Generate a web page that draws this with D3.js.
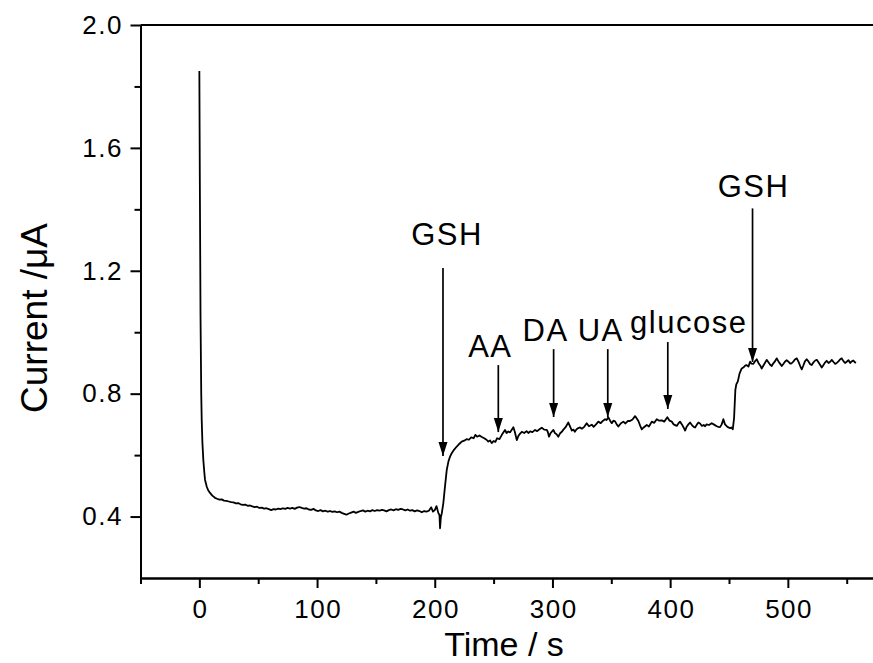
<!DOCTYPE html>
<html>
<head>
<meta charset="utf-8">
<script src="https://d3js.org/d3.v7.min.js"></script>
<style>
body, html {
  margin: 0;
  padding: 0;
  background: #fff;
  font-family: Arial, "Liberation Sans", sans-serif;
}
.axis path, .axis line {
  stroke: #000;
  stroke-width: 2px;
}
.axis text {
  font-family: Arial, "Liberation Sans", sans-serif;
  font-size: 26px;
  letter-spacing: 1.5px;
  fill: #000;
}
.trace {
  fill: none;
  stroke: #000;
  stroke-width: 1.8px;
  stroke-linejoin: round;
}
.arrow {
  stroke: #000;
  stroke-width: 1.7px;
}
.label {
  font-size: 31px;
  letter-spacing: 1.5px;
  fill: #000;
}
.title {
  font-size: 34px;
  fill: #000;
}
</style>
</head>
<body>
<div id="chart"></div>
<script>

// amperometric trace: [time (s), current (uA)]
var trace = [
  [0,1.85],[0.4,1.5],[1,1.05],[1.6,0.8],[2,0.715],[2.6,0.64],[3.4,0.583],[4.2,0.545],
  [4.8,0.52],[6.3,0.497],[7.5,0.486],[9.1,0.477],[11,0.468],[13.3,0.461],
  [15,0.458],[17,0.455],[19,0.456],[21,0.452],[23,0.451],[25,0.449],[27,0.447],[29,0.446],
  [31,0.443],[33,0.444],[35,0.440],[37,0.438],[39,0.439],[41,0.435],[43,0.436],[45,0.433],
  [47,0.431],[49,0.432],[51,0.428],[53,0.429],[55,0.426],[57,0.427],[59,0.424],[61,0.421],
  [63,0.424],[65,0.423],[67,0.426],[69,0.424],[71,0.427],[73,0.425],[75,0.428],[77,0.426],
  [79,0.428],[81,0.425],[83,0.429],[85,0.431],[87,0.428],[89,0.426],[91,0.427],[93,0.423],
  [95,0.422],[97,0.425],[99,0.420],[101,0.418],[103,0.421],[105,0.417],[107,0.419],[109,0.416],
  [111,0.418],[113,0.415],[115,0.417],[117,0.414],[119,0.416],[121,0.412],[123,0.409],[125,0.406],
  [127,0.410],[129,0.413],[131,0.416],[133,0.412],[135,0.415],[137,0.418],[139,0.420],[141,0.416],
  [143,0.419],[145,0.417],[147,0.421],[149,0.418],[151,0.421],[153,0.419],[155,0.422],[157,0.420],
  [159,0.417],[161,0.421],[163,0.423],[165,0.420],[167,0.424],[169,0.422],[171,0.425],[173,0.423],
  [175,0.420],[177,0.423],[179,0.419],[181,0.421],[183,0.417],[185,0.420],[187,0.418],[189,0.414],
  [191,0.418],[193,0.416],[195,0.419],[197,0.430],[198.5,0.416],[200,0.421],[201.5,0.434],[203,0.412],
  [204,0.405],[204.5,0.362],[205.2,0.398],[206,0.411],[207.3,0.444],[208.7,0.498],[210.2,0.552],
  [211.6,0.579],[213,0.595],[214.4,0.606],[216.5,0.618],[218.7,0.628],[221,0.637],[222.9,0.644],
  [225,0.647],[227,0.652],[229,0.650],[231,0.658],[233,0.655],[234.5,0.666],[236,0.660],[238,0.664],
  [240,0.659],[242,0.655],[244,0.650],[245.5,0.644],[247,0.648],[248.4,0.639],[250,0.646],[251.5,0.643],
  [253,0.655],[255,0.652],[257,0.666],[259.7,0.682],[261,0.672],[262.5,0.677],[264,0.674],[266.8,0.691],
  [268,0.676],[269.7,0.649],[271,0.662],[272.5,0.670],[274,0.676],[276,0.672],[278,0.678],[279.5,0.672],
  [281,0.677],[283,0.675],[285.2,0.682],[287,0.678],[289,0.684],[290.9,0.689],[293,0.683],[295.2,0.682],
  [296,0.676],[297.1,0.660],[298.5,0.672],[300.8,0.682],[302,0.672],[303.5,0.668],[305,0.660],[306.5,0.671],
  [308,0.676],[309.3,0.683],[311,0.690],[313.5,0.706],[315,0.693],[316.5,0.680],[317.8,0.683],[319,0.676],
  [320.5,0.684],[322,0.688],[323.5,0.690],[325,0.686],[327,0.692],[329.1,0.704],[331,0.694],[333.4,0.699],
  [335,0.692],[337,0.700],[339,0.709],[341,0.704],[343,0.712],[344.7,0.717],[346,0.714],[347.5,0.723],
  [349,0.712],[350.4,0.704],[351.8,0.712],[353.2,0.710],[354.6,0.700],[356,0.693],[358,0.703],[360.2,0.709],
  [362,0.703],[364,0.711],[365.9,0.711],[368,0.716],[370.2,0.727],[371.5,0.720],[373,0.711],[374.5,0.696],
  [375.9,0.684],[377.5,0.690],[380.1,0.698],[382,0.693],[384.4,0.709],[386.5,0.705],[388.6,0.717],[390.8,0.712],
  [392.9,0.713],[395,0.709],[397.6,0.723],[399.5,0.712],[401.4,0.709],[403,0.700],[405.6,0.695],[407,0.703],
  [408.4,0.709],[410,0.700],[411.4,0.690],[412.7,0.680],[414,0.692],[415.5,0.700],[416.9,0.706],[418.5,0.698],
  [420,0.692],[421.2,0.690],[422.8,0.700],[424,0.706],[425.4,0.703],[427,0.695],[428.5,0.698],[429.7,0.694],
  [431,0.700],[433,0.698],[435.3,0.704],[437,0.700],[439.6,0.694],[441,0.692],[442.4,0.691],[443.8,0.700],
  [445.2,0.717],[446.6,0.700],[448.1,0.694],[449.5,0.690],[450.9,0.688],[452,0.690],[453.2,0.684],[454.3,0.720],
  [455.4,0.812],[456.2,0.830],[457.5,0.840],[459,0.866],[460.8,0.882],[462.5,0.886],[464,0.892],[465,0.893],
  [466.5,0.888],[467.9,0.904],[469,0.898],[470.7,0.897],[472,0.905],[473.6,0.912],[475,0.900],[476.5,0.892],
  [477.8,0.882],[479,0.890],[480.5,0.900],[482,0.910],[483.5,0.902],[485,0.894],[486.3,0.890],[487.5,0.898],
  [489,0.905],[490.6,0.915],[492,0.905],[493.5,0.897],[494.8,0.890],[496,0.896],[497.5,0.904],[499,0.909],
  [500.5,0.904],[502,0.898],[503.3,0.899],[504.8,0.905],[506,0.911],[507.6,0.915],[509,0.904],[510.5,0.890],
  [511.8,0.879],[513,0.890],[514.5,0.905],[516,0.912],[517.5,0.905],[519,0.896],[520.3,0.893],[521.8,0.902],
  [523.2,0.908],[524.6,0.910],[526,0.902],[527.5,0.893],[528.8,0.885],[530,0.892],[531.5,0.901],[533,0.907],
  [534.5,0.900],[536,0.904],[537.3,0.910],[538.8,0.903],[540.2,0.897],[541.6,0.900],[543,0.905],[544.5,0.912],
  [545.8,0.915],[547.2,0.906],[548.6,0.900],[550,0.904],[551.5,0.909],[553,0.900],[554.3,0.905],[555.7,0.908],
  [557,0.902],[558,0.901]
];

// injections marked with arrows
var injLabels = ["GSH", "AA", "DA", "UA", "glucose", "GSH"];
var injTimes  = [207, 254, 301, 347, 398, 470];
var arrowTop  = [1.209, 0.893, 0.945, 0.945, 0.968, 1.403];
var arrowTip  = [0.597, 0.675, 0.724, 0.724, 0.750, 0.903];
// label placement relative to arrow top (px)
var labelDx   = [4, -8, -8, -7, 21, 1];
var labelDy   = [-23, -8, -8, -8, -9, -11];

var xMajor = [0, 100, 200, 300, 400, 500];
var xMinor = [-50, 50, 150, 250, 350, 450, 550];
var yMajor = [0.4, 0.8, 1.2, 1.6, 2.0];
var yMinor = [0.6, 1.0, 1.4, 1.8];

var width = 873, height = 663;
var plotLeft = 140.5, plotTop = 25, plotBottom = 578;

var svg = d3.select("#chart").append("svg")
  .attr("width", width)
  .attr("height", height);

var x = d3.scaleLinear().domain([-50, 600]).range([plotLeft, plotLeft + 650 * 1.177]);
var y = d3.scaleLinear().domain([0.2, 2.0]).range([plotBottom, plotTop]);

// frame top line (right side runs off the picture)
svg.append("line")
  .attr("x1", plotLeft).attr("x2", width)
  .attr("y1", plotTop).attr("y2", plotTop)
  .attr("stroke", "#000").attr("stroke-width", 2);

// minor ticks
svg.append("g").attr("class", "axis")
  .attr("transform", "translate(0," + plotBottom + ")")
  .call(d3.axisBottom(x).tickValues(xMinor).tickSize(6).tickSizeOuter(0).tickFormat(""));
svg.append("g").attr("class", "axis")
  .attr("transform", "translate(" + plotLeft + ",0)")
  .call(d3.axisLeft(y).tickValues(yMinor).tickSize(6).tickSizeOuter(0).tickFormat(""));

// major ticks + labels
var xAx = svg.append("g").attr("class", "axis")
  .attr("transform", "translate(0," + plotBottom + ")")
  .call(d3.axisBottom(x).tickValues(xMajor).tickSize(10).tickSizeOuter(0).tickPadding(12));
xAx.selectAll("text").attr("dx", "0.75px");
svg.append("g").attr("class", "axis")
  .attr("transform", "translate(" + plotLeft + ",0)")
  .call(d3.axisLeft(y).tickValues(yMajor).tickSize(10).tickSizeOuter(0).tickPadding(9)
    .tickFormat(d3.format(".1f")))
  .selectAll("text").attr("dx", "1.5px");

// data
var line = d3.line().x(d => x(d[0])).y(d => y(d[1]));
svg.append("path").datum(trace).attr("class", "trace").attr("d", line);

// arrows
svg.append("defs").append("marker")
  .attr("id", "head")
  .attr("viewBox", "0 0 14 10")
  .attr("refX", 14).attr("refY", 5)
  .attr("markerUnits", "userSpaceOnUse")
  .attr("markerWidth", 14).attr("markerHeight", 10)
  .attr("orient", "auto")
  .append("path").attr("d", "M0,0.5L14,5L0,9.5Z").attr("fill", "#000");

var inj = injTimes.map((t, i) => ({
  t: t, label: injLabels[i], top: arrowTop[i], tip: arrowTip[i], dx: labelDx[i], dy: labelDy[i]
}));

svg.selectAll(".arrow").data(inj).enter().append("line")
  .attr("class", "arrow")
  .attr("x1", d => x(d.t)).attr("x2", d => x(d.t))
  .attr("y1", d => y(d.top)).attr("y2", d => y(d.tip))
  .attr("marker-end", "url(#head)");

svg.selectAll(".label").data(inj).enter().append("text")
  .attr("class", "label")
  .attr("x", d => x(d.t) + d.dx)
  .attr("y", d => y(d.top) + d.dy)
  .attr("text-anchor", "middle")
  .text(d => d.label);

// axis titles
svg.append("text").attr("class", "title")
  .attr("x", 504).attr("y", 656)
  .attr("text-anchor", "middle")
  .text("Time / s");

svg.append("text").attr("class", "title")
  .attr("transform", "translate(47,318) rotate(-90)")
  .attr("text-anchor", "middle")
  .style("font-size", "37px")
  .text("Current /\u03bcA");

</script>
</body>
</html>
